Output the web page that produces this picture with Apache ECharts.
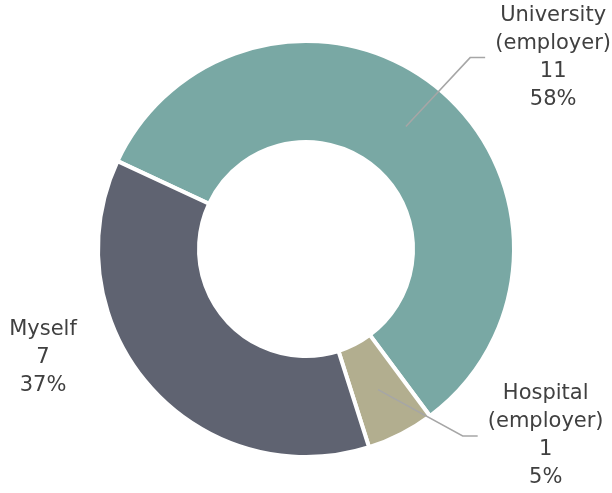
<!DOCTYPE html>
<html><head><meta charset="utf-8">
<script src="https://cdn.jsdelivr.net/npm/echarts@6/dist/echarts.min.js"></script>
<style>html,body{margin:0;padding:0;background:#fff}#c{width:612px;height:493px}</style>
</head><body><div id="c"></div>
<script>
const categories = ['University\n(employer)', 'Hospital\n(employer)', 'Myself'];
const values = [11, 1, 7];
const colors = ['#79a8a4', '#b2ae8f', '#5f6371'];

const chart = echarts.init(document.getElementById('c'), null, {renderer: 'canvas'});

const lineCfg = [
  {show: true, length: 89, length2: 23},
  {show: true, length: 52, length2: 76},
  {show: false}
];

const mainData = categories.map((n, i) => ({name: n, value: values[i], itemStyle: {color: colors[i]}}));
const labelData = categories.map((n, i) => ({name: n, value: values[i], labelLine: lineCfg[i]}));

function fmt(p) {
  const lines = p.name.split('\n').concat([String(p.value), Math.round(p.percent) + '%']);
  return lines.map(l => '{t|' + l + '}').join('\n');
}

const option = {
  backgroundColor: '#ffffff',
  animation: false,
  series: [
    {
      type: 'pie',
      center: [306, 249],
      radius: [107, 208],
      startAngle: 155,
      clockwise: true,
      data: mainData,
      label: {show: false},
      labelLine: {show: false},
      itemStyle: {borderColor: '#ffffff', borderWidth: 4},
      emphasis: {disabled: true},
      silent: true
    },
    {
      type: 'pie',
      center: [306, 249],
      radius: [0, 158],
      startAngle: 155,
      clockwise: true,
      z: 5,
      silent: true,
      avoidLabelOverlap: false,
      data: labelData,
      itemStyle: {color: 'rgba(0,0,0,0)', borderWidth: 0},
      emphasis: {disabled: true},
      label: {
        show: true,
        position: 'outside',
        formatter: fmt,
        width: 126,
        distanceToLabelLine: 5,
        rich: {
          t: {width: 126, align: 'center', fontSize: 21, lineHeight: 28, color: '#404040', fontFamily: 'DejaVu Sans'}
        }
      },
      labelLine: {lineStyle: {color: '#a6a6a6', width: 1.5}},
      labelLayout: function (p) {
        if (p.dataIndex === 2) {
          return {x: 43, y: 358, align: 'center', verticalAlign: 'middle'};
        }
        const pts = p.labelLinePoints;
        if (pts && pts.length === 3) {
          const end = pts[2];
          return {labelLinePoints: [pts[0], [end[0] - 15, end[1]], end]};
        }
        return {};
      }
    }
  ]
};
chart.setOption(option);
</script>
</body></html>
